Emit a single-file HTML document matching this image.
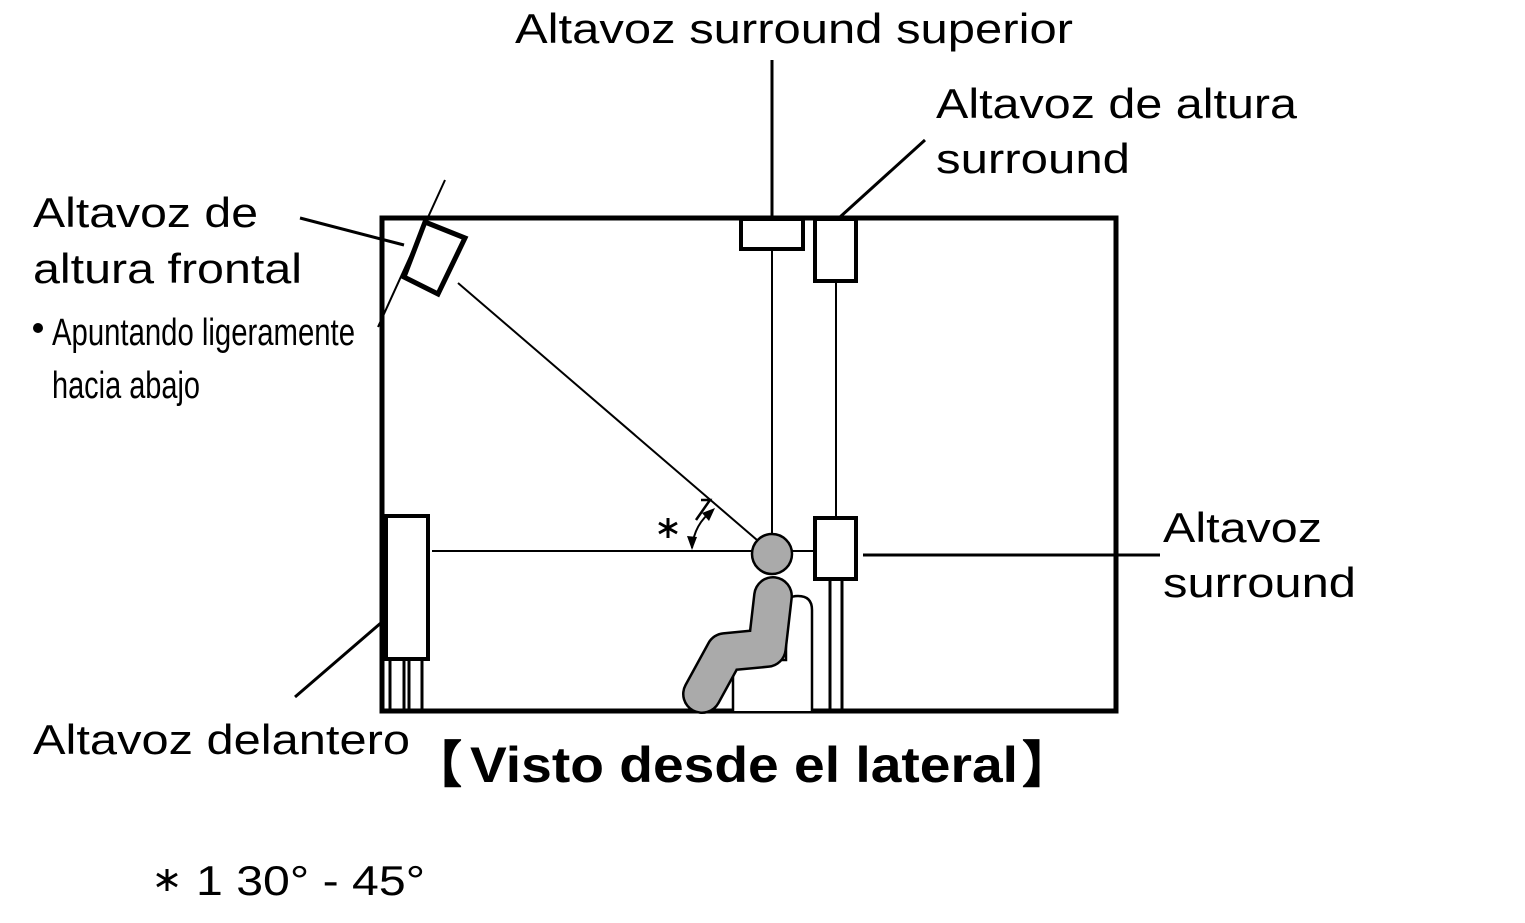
<!DOCTYPE html>
<html><head><meta charset="utf-8"><style>
html,body{margin:0;padding:0;background:#fff}
svg{display:block}
text{font-family:"Liberation Sans",sans-serif;fill:#000}
</style></head><body>
<svg width="1525" height="923" viewBox="0 0 1525 923">
<g fill="none" stroke="#000">
<rect x="382" y="218" width="734" height="493" stroke-width="5"/>
<line x1="772" y1="60" x2="772" y2="219" stroke-width="3"/>
<line x1="840" y1="217" x2="925" y2="140" stroke-width="3"/>
<line x1="300" y1="218" x2="404" y2="245" stroke-width="3"/>
<line x1="295" y1="697" x2="382" y2="622" stroke-width="3"/>
<line x1="863" y1="555" x2="1160" y2="555" stroke-width="3"/>
<line x1="445" y1="180" x2="378" y2="327" stroke-width="2"/>
<line x1="772" y1="249" x2="772" y2="535" stroke-width="2"/>
<line x1="836" y1="281" x2="836" y2="517" stroke-width="2"/>
<line x1="458" y1="283" x2="757" y2="540" stroke-width="2"/>
<line x1="432" y1="551" x2="753" y2="551" stroke-width="2"/>
<line x1="790" y1="551" x2="815" y2="551" stroke-width="2"/>
<rect x="741" y="219" width="62" height="30" stroke-width="4" fill="#fff"/>
<rect x="815" y="219" width="41" height="62" stroke-width="4" fill="#fff"/>
<rect x="815" y="518" width="41" height="61" stroke-width="4" fill="#fff"/>
<line x1="830" y1="579" x2="830" y2="711" stroke-width="3"/>
<line x1="842" y1="579" x2="842" y2="711" stroke-width="3"/>
<rect x="386" y="516" width="42" height="143" stroke-width="4" fill="#fff"/>
<line x1="390" y1="659" x2="390" y2="711" stroke-width="3"/>
<line x1="404" y1="659" x2="404" y2="711" stroke-width="3"/>
<line x1="409" y1="659" x2="409" y2="711" stroke-width="3"/>
<line x1="422" y1="659" x2="422" y2="711" stroke-width="3"/>
<polygon points="425,222 465,238 438,294 404,277" stroke-width="5" fill="#fff"/>
<path d="M733,711 V672 Q733,660 746,660 H786 V606 Q786,596 798,596 Q812,596 812,610 V711" stroke-width="2.5" fill="#fff"/>
<polyline points="773,596 767,648 725,652 702,694" stroke-width="40" stroke-linecap="round" stroke-linejoin="round"/>
<polyline points="773,596 767,648 725,652 702,694" stroke="#aaa" stroke-width="35" stroke-linecap="round" stroke-linejoin="round"/>
<circle cx="772" cy="554" r="20" fill="#aaa" stroke-width="2.5"/>
<path d="M692,548 Q694,524 713,510" stroke-width="2"/>
<g stroke-width="3">
<line x1="668" y1="518" x2="668" y2="538"/><line x1="659" y1="523" x2="677" y2="533"/><line x1="659" y1="533" x2="677" y2="523"/>
<line x1="167" y1="869" x2="167" y2="891"/><line x1="157" y1="874" x2="177" y2="886"/><line x1="157" y1="886" x2="177" y2="874"/>
</g>
<path d="M701,500 L710,500 L696,520" stroke-width="2.5"/>
</g>
<polygon points="692,550 687,536 697,537" fill="#000"/>
<polygon points="715,508 702,513 709,521" fill="#000"/>

<text x="515" y="43" font-size="42" textLength="558" lengthAdjust="spacingAndGlyphs">Altavoz surround superior</text>
<text x="936" y="118" font-size="42" textLength="361" lengthAdjust="spacingAndGlyphs">Altavoz de altura</text>
<text x="936" y="173" font-size="42" textLength="194" lengthAdjust="spacingAndGlyphs">surround</text>
<text x="33" y="227" font-size="42" textLength="225" lengthAdjust="spacingAndGlyphs">Altavoz de</text>
<text x="33" y="283" font-size="42" textLength="269" lengthAdjust="spacingAndGlyphs">altura frontal</text>
<circle cx="38" cy="328" r="5" fill="#000"/>
<text x="52" y="345" font-size="38" textLength="303" lengthAdjust="spacingAndGlyphs">Apuntando ligeramente</text>
<text x="52" y="398" font-size="38" textLength="148" lengthAdjust="spacingAndGlyphs">hacia abajo</text>
<text x="1163" y="542" font-size="42" textLength="159" lengthAdjust="spacingAndGlyphs">Altavoz</text>
<text x="1163" y="597" font-size="42" textLength="193" lengthAdjust="spacingAndGlyphs">surround</text>
<text x="33" y="754" font-size="42" textLength="377" lengthAdjust="spacingAndGlyphs">Altavoz delantero</text>
<text x="412" y="782" font-size="50" font-weight="bold">【</text>
<text x="470" y="782" font-size="50" font-weight="bold" textLength="548" lengthAdjust="spacingAndGlyphs">Visto desde el lateral</text>
<text x="1022" y="782" font-size="50" font-weight="bold">】</text>
<text x="196" y="895" font-size="42" textLength="229" lengthAdjust="spacingAndGlyphs">1 30° - 45°</text>
</svg>
</body></html>
